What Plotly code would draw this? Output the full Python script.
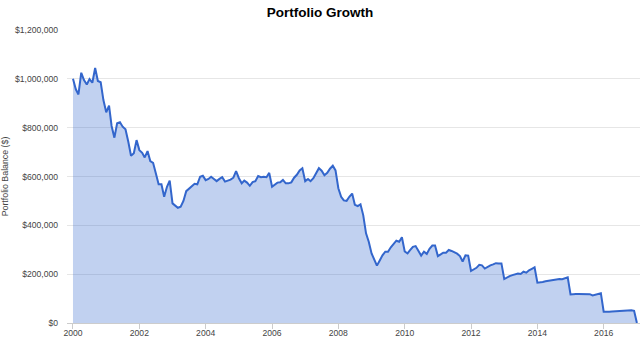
import pandas as pd
import plotly.graph_objects as go

# Month-start dates, Jan 2000 .. Jan 2017
months = pd.date_range("2000-01-01", periods=205, freq="MS")

# Portfolio balance at each month start ($)
balance = [
    # 2000
    1000000, 957000, 936000, 1025000, 995000, 977000, 999000, 984000, 1045000, 991000, 986000, 913000,
    # 2001
    863000, 890000, 807000, 759000, 818000, 822000, 804000, 793000, 742000, 685000, 695000, 749000,
    # 2002
    708000, 697000, 678000, 704000, 663000, 656000, 613000, 568000, 568000, 517000, 558000, 583000,
    # 2003
    490000, 480000, 472000, 476000, 500000, 540000, 550000, 558000, 570000, 568000, 599000, 603000,
    # 2004
    585000, 590000, 599000, 590000, 581000, 590000, 597000, 579000, 583000, 587000, 595000, 622000,
    # 2005
    593000, 572000, 583000, 575000, 562000, 577000, 581000, 602000, 597000, 599000, 597000, 615000,
    # 2006
    558000, 569000, 575000, 576000, 586000, 572000, 572000, 576000, 595000, 607000, 625000, 634000,
    # 2007
    581000, 590000, 581000, 593000, 613000, 634000, 624000, 605000, 615000, 632000, 644000, 625000,
    # 2008
    552000, 517000, 502000, 500000, 517000, 530000, 484000, 479000, 486000, 442000, 367000, 333000,
    # 2009
    285000, 258000, 235000, 256000, 277000, 292000, 292000, 310000, 325000, 337000, 333000, 351000,
    # 2010
    293000, 285000, 298000, 312000, 315000, 297000, 276000, 292000, 283000, 304000, 317000, 317000,
    # 2011
    274000, 281000, 288000, 288000, 299000, 295000, 290000, 284000, 274000, 252000, 277000, 276000,
    # 2012
    213000, 220000, 226000, 238000, 236000, 223000, 230000, 236000, 240000, 245000, 244000, 244000,
    # 2013
    180000, 187000, 192000, 196000, 199000, 203000, 201000, 210000, 206000, 216000, 222000, 228000,
    # 2014
    165000, 165000, 168000, 171000, 173000, 176000, 176000, 177000, 180000, 179000, 183000, 187000,
    # 2015
    117000, 119000, 119000, 119000, 119000, 119000, 119000, 118000, 113000, 116000, 119000, 122000,
    # 2016
    46000, 45000, 46000, 47000, 48000, 49000, 50000, 51000, 52000, 53000, 52000, 50000,
    # 2017
    0,
]

y_ticks = [0, 200000, 400000, 600000, 800000, 1000000, 1200000]

FONT = "Liberation Sans, Arial, sans-serif"

fig = go.Figure()
fig.add_trace(go.Scatter(
    x=months,
    y=balance,
    mode="lines",
    line=dict(color="#3366cc", width=2),
    fill="tozeroy",
    fillcolor="rgba(51,102,204,0.3)",
    hoverinfo="x+y",
))

fig.update_layout(
    width=640,
    height=339,
    margin=dict(l=67, r=0, t=30, b=16),
    paper_bgcolor="white",
    plot_bgcolor="white",
    showlegend=False,
    title=dict(
        text="Portfolio Growth",
        x=0.5,
        xanchor="center",
        y=1 - 12 / 339,
        yanchor="middle",
        yref="container",
        font=dict(family=FONT, size=13.5, color="#000000", weight="bold"),
    ),
    xaxis=dict(
        type="date",
        range=["1999-10-27", "2017-02-04"],
        tick0="2000-01-01",
        dtick="M24",
        tickformat="%Y",
        showgrid=False,
        zeroline=False,
        showline=True,
        linecolor="#cccccc",
        linewidth=1,
        ticks="outside",
        ticklen=5,
        tickcolor="#cccccc",
        ticklabelstandoff=-3,
        tickfont=dict(family=FONT, size=8.6, color="#444444"),
        automargin=False,
    ),
    yaxis=dict(
        range=[0, 1200000],
        tickvals=y_ticks,
        tickformat="$,.0f",
        showgrid=True,
        gridcolor="#e6e6e6",
        gridwidth=1,
        zeroline=False,
        showline=False,
        ticks="",
        ticklabelstandoff=8,
        tickfont=dict(family=FONT, size=8.6, color="#444444"),
        title=dict(
            text="Portfolio Balance ($)",
            font=dict(family=FONT, size=8.8, color="#444444"),
            standoff=8,
        ),
        automargin=False,
    ),
)

fig.write_html("out.html", config={"displayModeBar": False})
